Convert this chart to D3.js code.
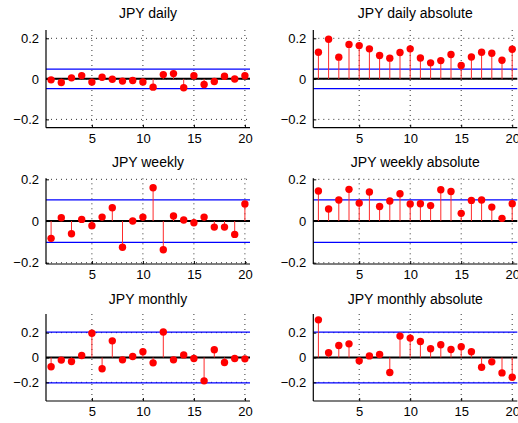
<!DOCTYPE html>
<html><head><meta charset="utf-8">
<script src="https://cdn.jsdelivr.net/npm/d3@7"></script>
<style>
html,body{margin:0;padding:0;background:#fff;}
svg{display:block;}
text{font-family:"Liberation Sans",Arial,Helvetica,sans-serif;fill:#000;}
</style></head>
<body>
<svg id="chart" width="518" height="423"></svg>
<script>
const lags = d3.range(1, 21);
const titles = ["JPY daily", "JPY daily absolute", "JPY weekly", "JPY weekly absolute", "JPY monthly", "JPY monthly absolute"];
const dailyACF = [-0.005,-0.018,0.005,0.016,-0.016,0.008,-0.002,-0.011,-0.008,-0.015,-0.041,0.021,0.026,-0.044,0.015,-0.028,-0.013,0.013,-0.001,0.015];
const dailyAbsACF = [0.131,0.195,0.107,0.170,0.164,0.148,0.115,0.102,0.130,0.148,0.103,0.079,0.090,0.120,0.066,0.108,0.131,0.126,0.092,0.146];
const weeklyACF = [-0.083,0.016,-0.061,0.008,-0.022,0.019,0.064,-0.126,0.000,0.019,0.160,-0.138,0.024,0.005,-0.008,0.019,-0.029,-0.029,-0.064,0.082];
const weeklyAbsACF = [0.144,0.058,0.101,0.152,0.086,0.139,0.070,0.096,0.131,0.082,0.083,0.074,0.150,0.142,0.037,0.099,0.101,0.067,0.013,0.083];
const monthlyACF = [-0.075,-0.021,-0.032,0.016,0.195,-0.091,0.134,-0.019,0.008,0.046,-0.043,0.205,-0.019,0.021,-0.008,-0.188,0.062,-0.040,-0.008,-0.011];
const monthlyAbsACF = [0.303,0.038,0.097,0.110,-0.027,0.013,0.024,-0.121,0.172,0.156,0.129,0.070,0.102,0.064,0.086,0.046,-0.078,-0.035,-0.124,-0.159];
const confBounds = [0.048, 0.048, 0.102, 0.102, 0.204, 0.204];
const yDomains = [[-0.241,0.241],[-0.241,0.241],[-0.206,0.205],[-0.206,0.205],[-0.35,0.35],[-0.35,0.35]];
const xTicks = [5, 10, 15, 20];
const yTicks = [-0.2, 0, 0.2];
const series = [dailyACF, dailyAbsACF, weeklyACF, weeklyAbsACF, monthlyACF, monthlyAbsACF];

// layout
const colRanges = [[46, 250], [313.3, 517.3]];
const rowRanges = [[127.7, 30], [264, 178.3], [401, 314]];
const titleBase = [18, 166.5, 303.8];

const svg = d3.select("#chart");
const fmt = v => v === 0 ? "0" : (v < 0 ? "\u2212" + Math.abs(v) : String(v));

series.forEach((vals, k) => {
  const col = k % 2, row = Math.floor(k / 2);
  const x = d3.scaleLinear().domain([0.5, 20.5]).range(colRanges[col]);
  const y = d3.scaleLinear().domain(yDomains[k]).range(rowRanges[row]);
  const g = svg.append("g");
  const [x0, x1] = x.range();
  const [yb, yt] = y.range();

  // grid (dotted)
  g.selectAll(".gx").data(xTicks).join("line")
    .attr("x1", d => x(d)).attr("x2", d => x(d)).attr("y1", yt).attr("y2", yb)
    .attr("stroke", "#333").attr("stroke-width", 1).attr("stroke-dasharray", "1,4");
  g.selectAll(".gy").data(yTicks).join("line")
    .attr("x1", x0).attr("x2", x1).attr("y1", d => y(d)).attr("y2", d => y(d))
    .attr("stroke", "#333").attr("stroke-width", 1).attr("stroke-dasharray", "1,4");

  // confidence bounds
  g.selectAll(".cb").data([confBounds[k], -confBounds[k]]).join("line")
    .attr("x1", x0).attr("x2", x1).attr("y1", d => y(d)).attr("y2", d => y(d))
    .attr("stroke", "#0000ff").attr("stroke-width", 1.2);

  // axes
  const xa = d3.axisBottom(x).tickValues(xTicks).tickSize(-3).tickPadding(6).tickFormat(d3.format("d"));
  const ya = d3.axisLeft(y).tickValues(yTicks).tickSize(-3).tickPadding(7).tickFormat(fmt);
  const gx = g.append("g").attr("transform", `translate(0,${yb})`).call(xa);
  const gy = g.append("g").attr("transform", `translate(${x0},0)`).call(ya);
  [gx, gy].forEach(a => {
    a.select(".domain").remove();
    a.selectAll("line").attr("stroke", "#000");
    a.selectAll("text").attr("font-size", 13).style("font-family", '"Liberation Sans",Arial,sans-serif');
  });
  g.append("line").attr("x1", x0).attr("x2", x1).attr("y1", yb).attr("y2", yb).attr("stroke", "#000").attr("stroke-width", 1.2);
  g.append("line").attr("x1", x0).attr("x2", x0).attr("y1", yb).attr("y2", yt).attr("stroke", "#000").attr("stroke-width", 1.2);

  // zero line
  g.append("line").attr("x1", x0).attr("x2", x1).attr("y1", y(0)).attr("y2", y(0))
    .attr("stroke", "#000").attr("stroke-width", 2);

  // stems
  g.selectAll(".stem").data(vals).join("line")
    .attr("x1", (d, i) => x(lags[i])).attr("x2", (d, i) => x(lags[i]))
    .attr("y1", y(0)).attr("y2", d => y(d))
    .attr("stroke", "#ff2a2a").attr("stroke-width", 1);
  g.selectAll(".dot").data(vals).join("circle")
    .attr("cx", (d, i) => x(lags[i])).attr("cy", d => y(d)).attr("r", 3.7)
    .attr("fill", "#ff0000");

  // title
  svg.append("text").attr("x", (x0 + x1) / 2).attr("y", titleBase[row])
    .attr("text-anchor", "middle").attr("font-size", 14).text(titles[k]);
});
</script>
</body></html>
